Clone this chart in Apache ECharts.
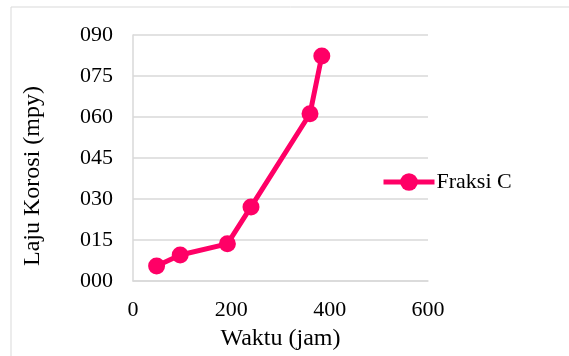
<!DOCTYPE html>
<html><head><meta charset="utf-8">
<script src="https://cdn.jsdelivr.net/npm/echarts@6/dist/echarts.min.js"></script>
<style>html,body{margin:0;padding:0;background:#fff}#c{width:569px;height:356px}</style>
</head><body><div id="c"></div>
<script>
const seriesName = 'Fraksi C';
const waktu = [48, 96, 192, 240, 360, 384];
const laju = [5.5, 9.5, 13.6, 27.1, 61.2, 82.3];
const xTicks = [0, 200, 400, 600];
const yTicks = [0, 15, 30, 45, 60, 75, 90];

const font = 'Liberation Serif';
const chart = echarts.init(document.getElementById('c'), null, {renderer: 'canvas'});
chart.setOption({
  animation: false,
  backgroundColor: '#fff',
  graphic: [
    {type: 'rect', shape: {x: 11, y: 7, width: 640, height: 400}, style: {fill: 'none', stroke: '#d9d9d9', lineWidth: 1}, z: -1},
    {type: 'text', x: 33, y: 176, rotation: Math.PI / 2, style: {text: 'Laju Korosi (mpy)', font: '24px "Liberation Serif"', fill: '#000', align: 'center', verticalAlign: 'middle'}}
  ],
  legend: {
    data: [seriesName], left: 381, top: 171, padding: 0, itemWidth: 51, itemHeight: 22, itemGap: 0,
    lineStyle: {width: 5},
    textStyle: {fontFamily: font, fontSize: 22, color: '#000', padding: [0, 0, 0, -3]}
  },
  grid: {left: 133, right: 141, top: 35, bottom: 74, containLabel: false},
  xAxis: {
    type: 'value', min: xTicks[0], max: xTicks[xTicks.length - 1], interval: 200,
    name: 'Waktu (jam)', nameLocation: 'middle', nameGap: 46,
    nameTextStyle: {fontFamily: font, fontSize: 24, color: '#000'},
    axisLine: {show: true, lineStyle: {color: '#d9d9d9', width: 1.5}},
    axisTick: {show: false},
    axisLabel: {fontFamily: font, fontSize: 22, color: '#000', margin: 18},
    splitLine: {show: false}
  },
  yAxis: {
    type: 'value', min: yTicks[0], max: yTicks[yTicks.length - 1], interval: 15,
    axisLine: {show: true, lineStyle: {color: '#d9d9d9', width: 1.5}},
    axisTick: {show: false},
    axisLabel: {fontFamily: font, fontSize: 22, color: '#000', margin: 20,
      formatter: v => String(v).padStart(3, '0')},
    splitLine: {show: true, lineStyle: {color: '#d9d9d9', width: 1.5}}
  },
  series: [{
    name: seriesName, type: 'line',
    data: waktu.map((x, i) => [x, laju[i]]),
    symbol: 'circle', symbolSize: 17,
    lineStyle: {color: '#FF0066', width: 5},
    itemStyle: {color: '#FF0066'}
  }]
});
</script></body></html>
